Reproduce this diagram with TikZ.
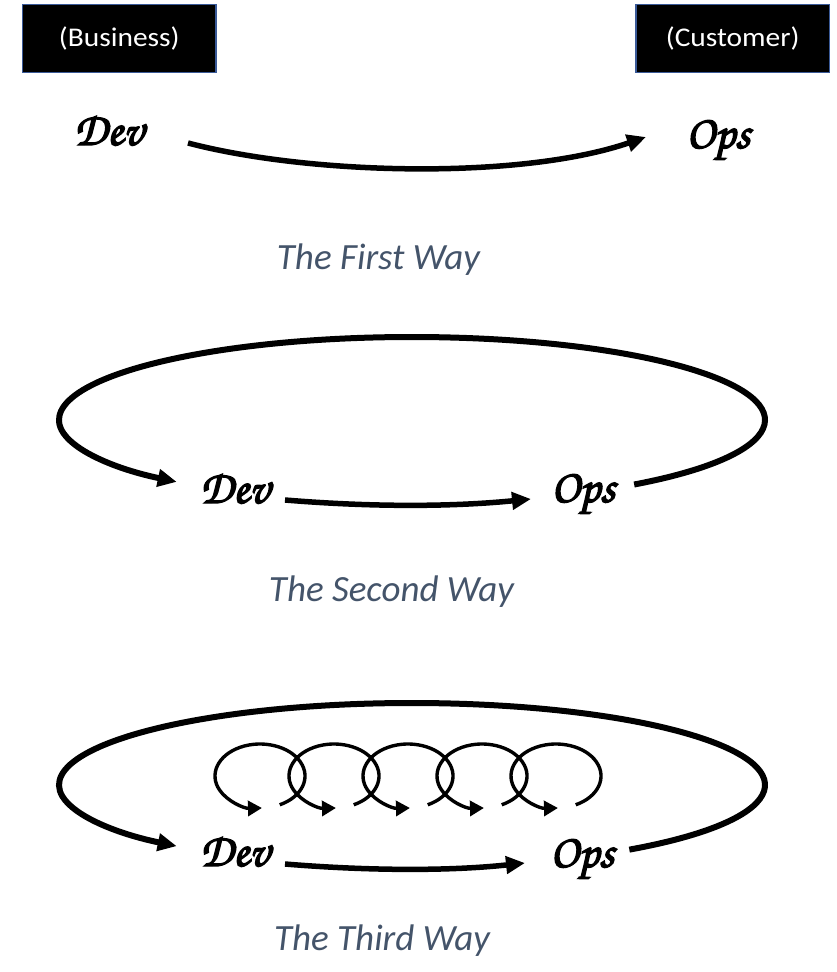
\documentclass[tikz,border=0pt]{standalone}
\usepackage{fontspec}
\usepackage{graphicx}
\setmainfont{Carlito}
\newfontfamily\chorus[FakeBold=3]{texgyrechorus-mediumitalic.otf}
\usetikzlibrary{arrows.meta,calc}
\definecolor{boxblue}{HTML}{3A5A98}
\definecolor{waytext}{HTML}{44546A}
\begin{document}
\begin{tikzpicture}[x=1pt,y=-1pt,
  box/.style={draw=boxblue, line width=1.5pt, fill=black, text=white,
    minimum width=193.3pt, minimum height=68pt, inner sep=0pt,
    font=\fontsize{27}{30}\selectfont},
  word/.style={font=\chorus\fontsize{47}{52}\selectfont, inner sep=0pt, anchor=base west},
  way/.style={font=\fontsize{37}{42}\selectfont\itshape, text=waytext, inner sep=0pt, anchor=base},
  flow/.style={line width=5.5pt, -{Triangle[length=19pt,width=17pt]}},
  ring/.style={line width=6pt, -{Triangle[length=19pt,width=17pt]}},
  coil/.style={line width=3.4pt, -{Triangle[length=14pt,width=15pt]}},
]
\useasboundingbox (0,0) rectangle (836,972);

% boxes
\node[box] (business) at (119.3,38.7) {\scalebox{1.09}[1]{(Business)}};
\node[box] (customer) at (732.7,38.7) {\scalebox{1.09}[1]{(Customer)}};

% first way
\node[word] (dev1) at (74,145) {Dev};
\node[word] (ops1) at (686,148) {Ops};
\coordinate (a1s) at (188,143);
\coordinate (a1e) at (646,137);
\draw[flow] (a1s) .. controls (310,175) and (520,180) .. (a1e);
\node[way] (way1) at (378.5,269) {The First Way};

% second way
\node[word] (dev2) at (200,503) {Dev};
\node[word] (ops2) at (551,502) {Ops};
\coordinate (c2) at (412,420);
\draw[ring] ($(c2)+(51:353 and 83)$) arc[start angle=51, end angle=-228.2, x radius=353, y radius=83];
\coordinate (a2s) at (285,500);
\coordinate (a2e) at (531,499);
\draw[flow] (a2s) .. controls (370,507) and (450,507) .. (a2e);
\node[way] (way2) at (391.5,601) {The Second Way};

% third way
\node[word] (dev3) at (200,866) {Dev};
\node[word] (ops3) at (550,867) {Ops};
\coordinate (c3) at (412,785);
\draw[ring] ($(c3)+(52:353 and 82)$) arc[start angle=52, end angle=-228.2, x radius=353, y radius=82];
\coordinate (a3s) at (285,864);
\coordinate (a3e) at (525,863);
\draw[flow] (a3s) .. controls (370,871) and (450,871) .. (a3e);
\foreach \k in {0,...,4}{
  \coordinate (l\k) at (260+74*\k,776);
  \draw[coil] ($(l\k)+(64:45 and 32)$) arc[start angle=64, end angle=-272.5, x radius=45, y radius=32];
}
\node[way] (way3) at (382,950) {The Third Way};
\end{tikzpicture}
\end{document}
